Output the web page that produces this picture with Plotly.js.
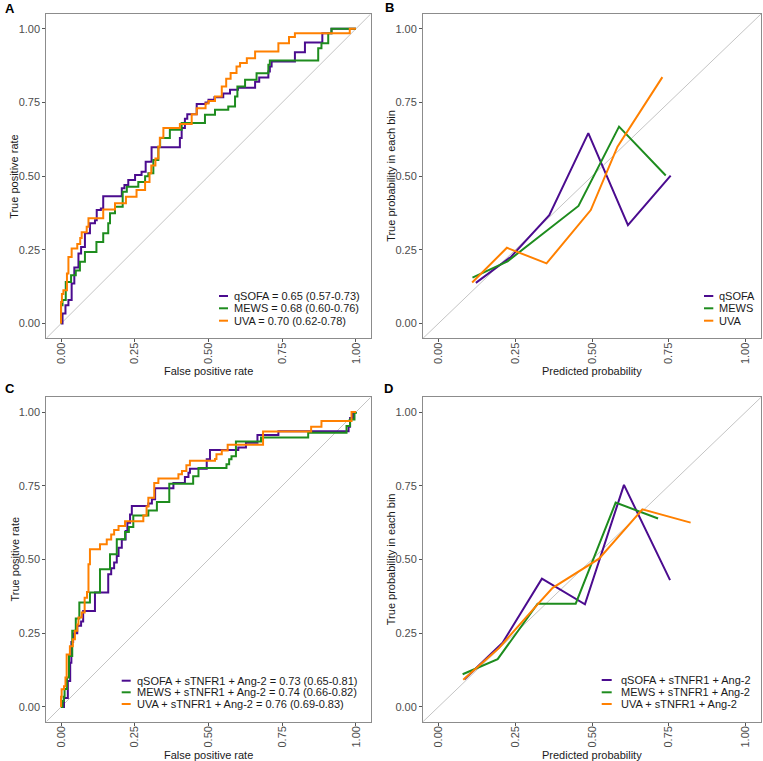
<!DOCTYPE html>
<html>
<head>
<meta charset="utf-8">
<script src="https://cdn.plot.ly/plotly-3.0.1.min.js"></script>
<style>html,body{margin:0;padding:0;background:#fff;}#chart{width:763px;height:761px;}</style>
</head>
<body>
<div id="chart"></div>
<script>
// ---------- DATA ----------
// Panel A: ROC curves (FPR at each rise, TPR after the rise)
const rocA_qsofa_fpr = [0,0.005,0.015,0.025,0.036,0.045,0.059,0.068,0.081,0.098,0.115,0.121,0.135,0.143,0.206,0.215,0.228,0.251,0.273,0.287,0.307,0.403,0.409,0.42,0.428,0.46,0.49,0.5,0.52,0.55,0.573,0.6,0.658,0.672,0.703,0.708,0.714,0.793,0.827,0.886,0.917,1.0];
const rocA_qsofa_tpr = [0,0.034,0.062,0.08,0.136,0.19,0.238,0.26,0.306,0.34,0.35,0.385,0.39,0.432,0.459,0.47,0.487,0.504,0.515,0.549,0.598,0.629,0.663,0.695,0.71,0.745,0.75,0.759,0.768,0.78,0.793,0.80,0.82,0.835,0.855,0.872,0.889,0.92,0.953,0.985,1.0,1.0];
const rocA_mews_fpr = [0,0,0.005,0.016,0.034,0.05,0.064,0.081,0.12,0.143,0.16,0.166,0.183,0.209,0.223,0.262,0.285,0.296,0.313,0.33,0.336,0.369,0.409,0.488,0.522,0.567,0.59,0.598,0.624,0.663,0.703,0.708,0.872,0.883,0.906,0.917,1.0];
const rocA_mews_tpr = [0,0.062,0.08,0.141,0.164,0.18,0.21,0.243,0.277,0.306,0.34,0.374,0.396,0.447,0.464,0.48,0.5,0.51,0.555,0.6,0.629,0.657,0.68,0.708,0.725,0.736,0.77,0.804,0.827,0.849,0.878,0.892,0.934,0.951,0.985,1.0,1.0];
const rocA_uva_fpr = [0,0,0.003,0.008,0.02,0.025,0.036,0.055,0.065,0.07,0.087,0.093,0.143,0.183,0.22,0.256,0.285,0.3,0.306,0.32,0.33,0.335,0.347,0.403,0.443,0.46,0.49,0.5,0.522,0.545,0.56,0.575,0.595,0.607,0.63,0.658,0.737,0.773,0.793,0.979,1.0];
const rocA_uva_tpr = [0,0.073,0.1,0.113,0.17,0.226,0.255,0.27,0.29,0.31,0.328,0.357,0.387,0.408,0.43,0.453,0.48,0.51,0.536,0.56,0.6,0.63,0.663,0.677,0.71,0.73,0.746,0.755,0.77,0.804,0.83,0.85,0.872,0.884,0.9,0.923,0.951,0.972,0.985,1.0,1.0];

// Panel B: calibration (predicted probability vs observed in each bin)
const calB_qsofa_pred = [0.122,0.236,0.361,0.488,0.617,0.756];
const calB_qsofa_obs  = [0.138,0.226,0.368,0.646,0.334,0.502];
const calB_mews_pred  = [0.111,0.225,0.456,0.588,0.740];
const calB_mews_obs   = [0.156,0.211,0.399,0.668,0.502];
const calB_uva_pred   = [0.110,0.223,0.352,0.496,0.583,0.729];
const calB_uva_obs    = [0.139,0.257,0.204,0.385,0.600,0.836];

// Panel C: ROC curves, models + sTNFR1 + Ang-2
const rocC_qsofa_fpr = [0,0.01,0.023,0.031,0.035,0.041,0.055,0.068,0.075,0.115,0.16,0.17,0.18,0.189,0.195,0.206,0.219,0.225,0.234,0.24,0.296,0.308,0.319,0.381,0.42,0.432,0.437,0.494,0.505,0.601,0.627,0.666,0.737,0.975,0.98,0.99,1.0];
const rocC_qsofa_tpr = [0,0.03,0.088,0.15,0.22,0.25,0.275,0.29,0.325,0.388,0.45,0.47,0.49,0.512,0.54,0.568,0.597,0.625,0.653,0.681,0.69,0.704,0.742,0.759,0.78,0.794,0.808,0.84,0.871,0.88,0.896,0.922,0.935,0.95,0.98,1.0,1.0];
const rocC_mews_fpr = [0,0.005,0.009,0.012,0.02,0.027,0.038,0.05,0.062,0.098,0.132,0.166,0.189,0.217,0.23,0.245,0.296,0.325,0.367,0.448,0.466,0.561,0.57,0.578,0.593,0.678,0.838,0.968,0.98,0.995,1.0];
const rocC_mews_tpr = [0,0.02,0.035,0.061,0.1,0.173,0.258,0.3,0.354,0.388,0.467,0.518,0.569,0.593,0.61,0.649,0.666,0.695,0.757,0.782,0.81,0.823,0.84,0.85,0.9,0.914,0.93,0.953,0.975,0.998,1.0];
const rocC_uva_fpr = [0,0,0.002,0.01,0.015,0.019,0.03,0.04,0.047,0.055,0.059,0.07,0.08,0.088,0.093,0.098,0.132,0.155,0.17,0.18,0.195,0.217,0.279,0.29,0.296,0.316,0.33,0.398,0.41,0.425,0.437,0.522,0.527,0.545,0.565,0.685,0.848,0.883,0.985,1.0];
const rocC_uva_tpr = [0,0.035,0.06,0.07,0.1,0.178,0.206,0.23,0.258,0.28,0.303,0.32,0.37,0.39,0.484,0.535,0.552,0.568,0.585,0.6,0.614,0.63,0.649,0.68,0.709,0.759,0.775,0.789,0.8,0.82,0.835,0.841,0.857,0.87,0.889,0.934,0.95,0.97,1.0,1.0];

// Panel D: calibration, models + sTNFR1 + Ang-2
const calD_qsofa_pred = [0.085,0.209,0.337,0.477,0.604,0.754];
const calD_qsofa_obs  = [0.094,0.218,0.435,0.348,0.753,0.430];
const calD_mews_pred  = [0.079,0.193,0.323,0.447,0.577,0.715];
const calD_mews_obs   = [0.111,0.162,0.350,0.350,0.693,0.639];
const calD_uva_pred   = [0.081,0.198,0.323,0.372,0.523,0.664,0.821];
const calD_uva_obs    = [0.092,0.201,0.348,0.404,0.503,0.670,0.625];

const ticksVals = [0,0.25,0.5,0.75,1];
const ticksText = ['0.00','0.25','0.50','0.75','1.00'];
const namesA = ['qSOFA = 0.65 (0.57-0.73)','MEWS = 0.68 (0.60-0.76)','UVA = 0.70 (0.62-0.78)'];
const namesB = ['qSOFA','MEWS','UVA'];
const namesC = ['qSOFA + sTNFR1 + Ang-2 = 0.73 (0.65-0.81)','MEWS + sTNFR1 + Ang-2 = 0.74 (0.66-0.82)','UVA + sTNFR1 + Ang-2 = 0.76 (0.69-0.83)'];
const namesD = ['qSOFA + sTNFR1 + Ang-2','MEWS + sTNFR1 + Ang-2','UVA + sTNFR1 + Ang-2'];
const rocXTitle = 'False positive rate', rocYTitle = 'True positive rate';
const calXTitle = 'Predicted probability', calYTitle = 'True probability in each bin';
const colors = ['#4B0C8F','#1E8C1E','#FF8000'];

// ---------- BUILD ----------
const W = 763, H = 761;
const px = v => v / W;
const py = v => 1 - v / H;

function trace(x, y, c, xa, ya, shape) {
  return {x: x, y: y, type: 'scatter', mode: 'lines', xaxis: xa, yaxis: ya,
    line: {color: c, width: 2, shape: shape || 'linear'}, showlegend: false, hoverinfo: 'skip'};
}
const data = [
  trace(rocA_qsofa_fpr, rocA_qsofa_tpr, colors[0], 'x', 'y', 'hv'),
  trace(rocA_mews_fpr, rocA_mews_tpr, colors[1], 'x', 'y', 'hv'),
  trace(rocA_uva_fpr, rocA_uva_tpr, colors[2], 'x', 'y', 'hv'),
  trace(calB_qsofa_pred, calB_qsofa_obs, colors[0], 'x2', 'y2'),
  trace(calB_mews_pred, calB_mews_obs, colors[1], 'x2', 'y2'),
  trace(calB_uva_pred, calB_uva_obs, colors[2], 'x2', 'y2'),
  trace(rocC_qsofa_fpr, rocC_qsofa_tpr, colors[0], 'x3', 'y3', 'hv'),
  trace(rocC_mews_fpr, rocC_mews_tpr, colors[1], 'x3', 'y3', 'hv'),
  trace(rocC_uva_fpr, rocC_uva_tpr, colors[2], 'x3', 'y3', 'hv'),
  trace(calD_qsofa_pred, calD_qsofa_obs, colors[0], 'x4', 'y4'),
  trace(calD_mews_pred, calD_mews_obs, colors[1], 'x4', 'y4'),
  trace(calD_uva_pred, calD_uva_obs, colors[2], 'x4', 'y4')
];

const R = [-0.05, 1.05];
function ax(domain, anchor, isX) {
  const a = {domain: domain, anchor: anchor, range: R, showgrid: false, zeroline: false,
    showline: true, mirror: true, linecolor: '#8c8c8c', linewidth: 1,
    ticks: 'outside', ticklen: 3, tickwidth: 1, tickcolor: '#555',
    tickvals: ticksVals, ticktext: ticksText,
    tickfont: {size: 11, color: '#4d4d4d'}, automargin: false};
  if (isX) { a.tickangle = -90; a.ticklabelstandoff = -4; }
  return a;
}
const L = [46.3, 370.7], Rr = [423, 761], T = [14, 338.3], B = [397.3, 721.7];
const dxL = [px(L[0]), px(L[1])], dxR = [px(Rr[0]), px(Rr[1])];
const dyT = [py(T[1]), py(T[0])], dyB = [py(B[1]), py(B[0])];

const layout = {
  width: W, height: H, margin: {l: 0, r: 0, t: 0, b: 0},
  paper_bgcolor: '#fff', plot_bgcolor: '#fff',
  font: {family: 'Liberation Sans, Arial, sans-serif', size: 11, color: '#1a1a1a'},
  showlegend: false,
  xaxis: ax(dxL, 'y', true),  yaxis: ax(dyT, 'x', false),
  xaxis2: ax(dxR, 'y2', true), yaxis2: ax(dyT, 'x2', false),
  xaxis3: ax(dxL, 'y3', true), yaxis3: ax(dyB, 'x3', false),
  xaxis4: ax(dxR, 'y4', true), yaxis4: ax(dyB, 'x4', false),
  shapes: [],
  annotations: []
};

// diagonal reference lines y = x across full axis range
[['x','y'],['x2','y2'],['x3','y3'],['x4','y4']].forEach(p => {
  layout.shapes.push({type: 'line', xref: p[0], yref: p[1], x0: R[0], y0: R[0], x1: R[1], y1: R[1],
    line: {color: '#c4c4c4', width: 1}, layer: 'below'});
});

// axis titles
function axTitle(text, x, y, angle) {
  layout.annotations.push({text: text, xref: 'paper', yref: 'paper', x: px(x), y: py(y),
    xanchor: 'center', yanchor: 'middle', textangle: angle, showarrow: false,
    font: {size: 11, color: '#1a1a1a'}});
}
axTitle(rocXTitle, (L[0]+L[1])/2, 370.5, 0);
axTitle(calXTitle, (Rr[0]+Rr[1])/2, 370.5, 0);
axTitle(rocXTitle, (L[0]+L[1])/2, 754.5, 0);
axTitle(calXTitle, (Rr[0]+Rr[1])/2, 754.5, 0);
axTitle(rocYTitle, 13.7, (T[0]+T[1])/2, -90);
axTitle(calYTitle, 390.7, (T[0]+T[1])/2, -90);
axTitle(rocYTitle, 14, (B[0]+B[1])/2, -90);
axTitle(calYTitle, 390.7, (B[0]+B[1])/2, -90);

// panel letters
[['A',3,8.3],['B',382.5,8],['C',3,388.7],['D',381.7,388.5]].forEach(l => {
  layout.annotations.push({text: '<b>' + l[0] + '</b>', xref: 'paper', yref: 'paper',
    x: px(l[1]), y: py(l[2]), xanchor: 'left', yanchor: 'middle', showarrow: false,
    font: {size: 13, color: '#000'}});
});

// in-panel legends (key line + label)
function legend(names, keyX0, keyX1, textX, rowsY) {
  names.forEach((n, i) => {
    layout.shapes.push({type: 'line', xref: 'paper', yref: 'paper',
      x0: px(keyX0), x1: px(keyX1), y0: py(rowsY[i]), y1: py(rowsY[i]),
      line: {color: colors[i], width: 2}});
    layout.annotations.push({text: n, xref: 'paper', yref: 'paper', x: px(textX), y: py(rowsY[i]),
      xanchor: 'left', yanchor: 'middle', showarrow: false,
      font: {size: 11, color: '#1a1a1a'}});
  });
}
legend(namesA, 219, 228, 231.5, [296, 308.3, 320.7]);
legend(namesB, 704, 713.3, 716.8, [296, 308.3, 320.7]);
legend(namesC, 121.7, 130.7, 134.5, [680.7, 692.3, 704]);
legend(namesD, 601.7, 611.7, 618.5, [680, 692.3, 704]);

Plotly.newPlot('chart', data, layout, {displayModeBar: false, staticPlot: true});
</script>
</body>
</html>
